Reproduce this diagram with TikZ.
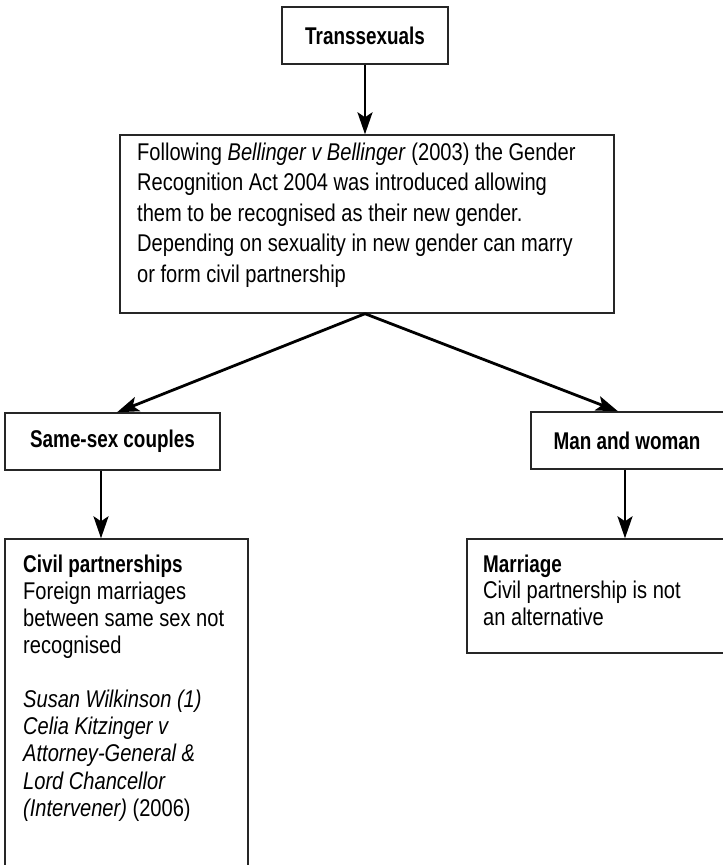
\documentclass[tikz,border=0pt]{standalone}
\usepackage{fontspec}
\setmainfont{Liberation Sans}[
  UprightFeatures={FakeStretch=0.83},
  ItalicFeatures={FakeStretch=0.83},
  BoldFeatures={FakeStretch=0.78},
  BoldItalicFeatures={FakeStretch=0.78}]
\usetikzlibrary{arrows.meta}

\tikzset{
  box/.style={draw=black!85, line width=1.4pt, fill=white, inner sep=0pt, rectangle},
  head/.style={box, font=\bfseries\fontsize{24.2}{28}\selectfont},
  body/.style={inner sep=0pt, anchor=north west, align=left},
  arr/.style={line width=2.8pt, -{Stealth[length=22pt,width=15pt,inset=5pt]}}
}
\newcommand{\firstline}{\rule{0pt}{20pt}}

\begin{document}
\begin{tikzpicture}[x=1pt,y=-1pt]
\clip (0,0) rectangle (723,865);
\fill[white] (0,0) rectangle (723,865);

% boxes
\node[head, minimum width=166pt, minimum height=57pt] (top) at (365,35.5) {Transsexuals};
\node[box, minimum width=494pt, minimum height=178pt] (main) at (367,224) {};
\node[head, minimum width=215pt, minimum height=57pt] (ss) at (112.5,441.5) {Same-sex couples};
\node[box, minimum width=196pt, minimum height=57pt] (mw) at (629,440.5) {};
\node[head, draw=none, fill=none] (mwtext) at (627,440.5) {Man and woman};
\node[box, minimum width=243pt, minimum height=341pt] (cp) at (126.5,709.5) {};
\node[box, minimum width=260pt, minimum height=114pt] (mar) at (597,596) {};

% box texts
\node[body, font=\fontsize{24.2}{30.5}\selectfont] (maintext) at (137,140)
  {\firstline Following \textit{Bellinger v Bellinger} (2003) the Gender\\
   Recognition Act 2004 was introduced allowing\\
   them to be recognised as their new gender.\\
   Depending on sexuality in new gender can marry\\
   or form civil partnership};
\node[body, font=\fontsize{24.2}{27.1}\selectfont] (cptext) at (23,552)
  {\firstline\textbf{Civil partnerships}\\
   Foreign marriages\\
   between same sex not\\
   recognised\\[27.1pt]
   \textit{Susan Wilkinson (1)}\\
   \textit{Celia Kitzinger v}\\
   \textit{Attorney-General \&}\\
   \textit{Lord Chancellor}\\
   \textit{(Intervener)} (2006)};
\node[body, font=\fontsize{24.2}{26.5}\selectfont] (martext) at (483,552)
  {\firstline\textbf{Marriage}\\
   Civil partnership is not\\
   an alternative};

% connectors
\coordinate (split) at ([xshift=-2pt]main.south);
\draw[arr] (top.south) -- (top.south |- main.north);
\draw[arr] (split) -- ([xshift=4.5pt]ss.north);
\draw[arr] (split) -- ([xshift=-11pt]mw.north);
\draw[arr] ([xshift=-11.5pt]ss.south) -- ([xshift=-11.5pt]ss.south |- cp.north);
\draw[arr] ([xshift=-4pt]mw.south) -- ([xshift=-4pt]mw.south |- mar.north);
\end{tikzpicture}
\end{document}
